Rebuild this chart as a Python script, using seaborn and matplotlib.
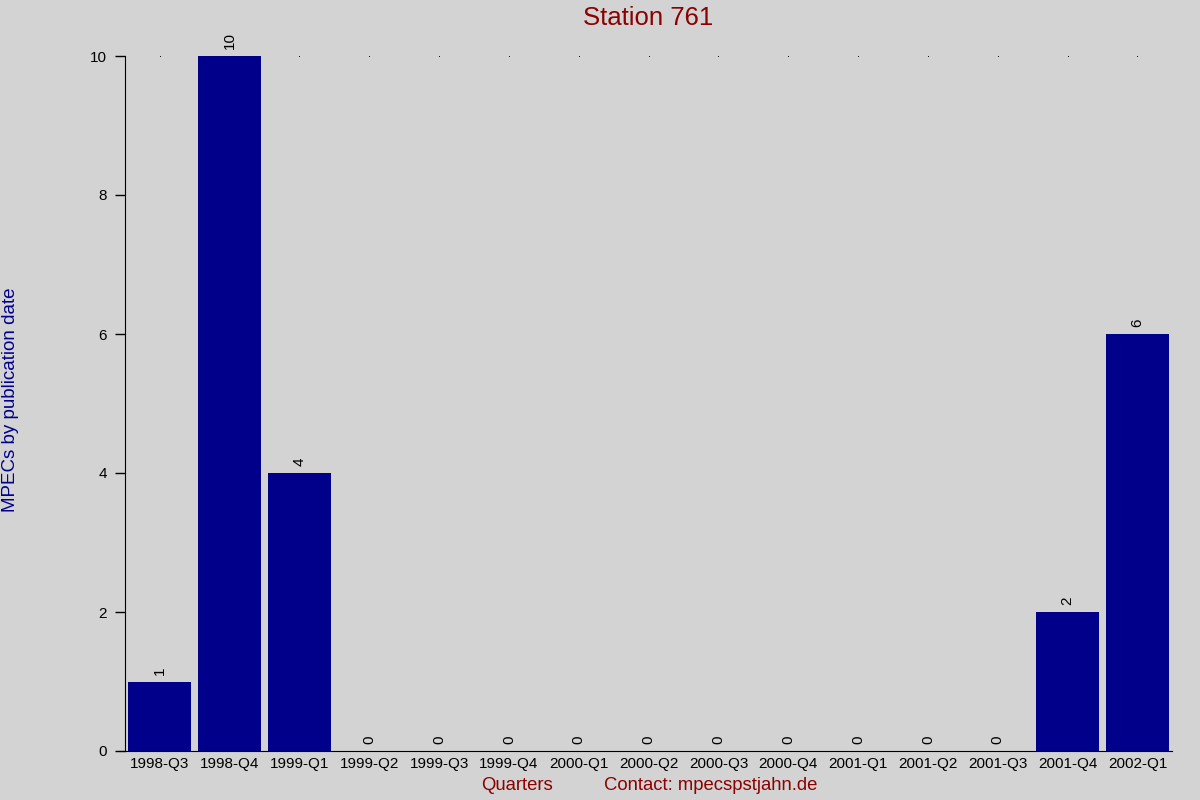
import pandas as pd
import matplotlib
matplotlib.use("Agg")
import matplotlib.pyplot as plt
import seaborn as sns

# =========================
# DATA
# =========================
quarters = [
    "1998-Q3", "1998-Q4", "1999-Q1", "1999-Q2", "1999-Q3",
    "1999-Q4", "2000-Q1", "2000-Q2", "2000-Q3", "2000-Q4",
    "2001-Q1", "2001-Q2", "2001-Q3", "2001-Q4", "2002-Q1",
]
mpecs = [1, 10, 4, 0, 0, 0, 0, 0, 0, 0, 0, 0, 0, 2, 6]
y_ticks = [0, 2, 4, 6, 8, 10]

df = pd.DataFrame({"Quarter": quarters, "MPECs": mpecs})

# =========================
# STYLE
# =========================
sns.set_style("white")
plt.rcParams["font.family"] = ["Liberation Sans", "DejaVu Sans"]

bg = "#d3d3d3"
bar_color = "#00008b"
red = "#8b0000"

fig = plt.figure(figsize=(12, 8), dpi=100, facecolor=bg)
ax = fig.add_axes([0.104, 0.06125, 0.873, 0.86875])
ax.set_facecolor(bg)

# small dots at the top level (behind the bars)
ax.scatter(range(len(quarters)), [10] * len(quarters),
           s=0.6, color="black", linewidths=0, zorder=0.5)

sns.barplot(
    x="Quarter",
    y="MPECs",
    data=df,
    color=bar_color,
    width=0.9,
    saturation=1,
    linewidth=0,
    ax=ax,
    zorder=2,
)

# value labels
for i, v in enumerate(mpecs):
    ax.text(i, v + 0.1, str(v), rotation=90, ha="center", va="bottom",
            fontsize=11, color="black")

ax.set_xlim(-0.5, len(quarters) - 0.5)
ax.set_ylim(0, 10)
ax.set_yticks(y_ticks)
ax.tick_params(axis="y", left=True, direction="out", length=7, width=1,
               labelsize=11, colors="black", pad=6)
ax.tick_params(axis="x", bottom=False, length=0, labelsize=11, pad=4,
               colors="black")

for s in ["top", "right"]:
    ax.spines[s].set_visible(False)
ax.spines["left"].set_color("black")
ax.spines["bottom"].set_color("black")
ax.spines["bottom"].set_bounds(-0.58, len(quarters) - 0.5)
for spine in ax.spines.values():
    spine.set_clip_on(False)
    spine.set_zorder(3)

ax.set_xlabel("")
ax.set_ylabel("")

fig.text(0.54, 0.978, "Station 761", ha="center", va="center",
         fontsize=18.5, color=red)
fig.text(0.009, 0.5, "MPECs by publication date", rotation=90,
         ha="center", va="center", fontsize=13.5, color=bar_color)
fig.text(0.431, 0.0175, "Quarters", ha="center", va="center",
         fontsize=13.3, color=red)
fig.text(0.592, 0.0175, "Contact: mpecspstjahn.de", ha="center",
         va="center", fontsize=13.3, color=red)

plt.savefig("out.png", dpi=100, facecolor=bg)
plt.close()
